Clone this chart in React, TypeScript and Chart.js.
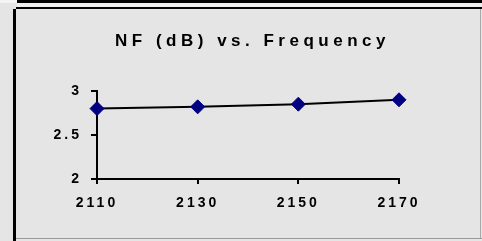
import React, { useEffect, useRef } from "react";
import { Chart, registerables } from "chart.js";
Chart.register(...registerables);

const categories = ["2110", "2130", "2150", "2170"];
const nfValues = [2.8, 2.82, 2.85, 2.9];
const yMin = 2;
const yMax = 3;
const yStep = 0.5;
const titleText = "NF (dB) vs. Frequency";

const FONT = "'Liberation Sans', Arial, sans-serif";
const BG = "#e5e5e5";

export default function App() {
  const ref = useRef<HTMLCanvasElement>(null);
  useEffect(() => {
    document.body.style.margin = "0";
    const spacingPlugin = {
      id: "spacing",
      beforeLayout(c: any) { c.ctx.letterSpacing = "3px"; },
      beforeDraw(c: any) { c.ctx.letterSpacing = "3px"; },
    };
    const titlePlugin = {
      id: "ttl",
      afterDraw(c: any) {
        const ctx = c.ctx;
        ctx.save();
        ctx.letterSpacing = "4.5px";
        ctx.font = `bold 17px ${FONT}`;
        ctx.fillStyle = "#000";
        ctx.textAlign = "center";
        ctx.textBaseline = "middle";
        ctx.fillText(titleText, (c.width + 17) / 2 + 3, 41);
        ctx.restore();
      },
    };
    const tickFont = { family: FONT, size: 14, weight: "bold" as const };
    const chart = new Chart(ref.current!, {
      type: "line",
      data: {
        labels: categories,
        datasets: [
          {
            data: nfValues,
            borderColor: "#000",
            borderWidth: 2,
            pointStyle: "rectRot",
            pointRadius: 7,
            pointBackgroundColor: "#000080",
            pointBorderColor: "#000080",
            pointBorderWidth: 1,
            tension: 0,
            clip: false as any,
          },
        ],
      },
      options: {
        animation: false,
        responsive: false,
        devicePixelRatio: 1,
        events: [],
        layout: { padding: { top: 91, right: 83, left: 0, bottom: 0 } },
        plugins: { legend: { display: false }, tooltip: { enabled: false }, title: { display: false } },
        scales: {
          x: {
            type: "category",
            offset: false,
            grid: { drawOnChartArea: false, drawTicks: true, tickLength: 5, color: "#000", lineWidth: 2 },
            border: { color: "#000", width: 2 },
            ticks: { color: "#000", font: tickFont, padding: 11, maxRotation: 0, autoSkip: false },
            afterFit(s: any) { s.height = 62; },
          },
          y: {
            min: yMin,
            max: yMax,
            grid: { drawOnChartArea: false, drawTicks: true, tickLength: 6, color: "#000", lineWidth: 2 },
            border: { color: "#000", width: 2 },
            ticks: {
              stepSize: yStep,
              color: "#000",
              font: tickFont,
              padding: 9,
              callback: (v: any) => String(Number(v)),
            },
            afterFit(s: any) { s.width = 97; },
          },
        },
      },
      plugins: [spacingPlugin, titlePlugin],
    });
    return () => chart.destroy();
  }, []);

  const abs = (l: number, t: number, w: number, h: number, bg: string) => (
    <div style={{ position: "absolute", left: l, top: t, width: w, height: h, background: bg }} />
  );

  return (
    <div style={{ position: "fixed", left: 0, top: 0, width: 482, height: 241, background: BG, overflow: "hidden" }}>
      {abs(0, 0, 17, 3, "#f4f4f4")}
      {abs(17, 0, 465, 3, "#000")}
      {abs(17, 3, 465, 4, "#eeeeee")}
      {abs(16, 7, 466, 2, "#000")}
      {abs(13, 9, 3, 232, "#000")}
      {abs(16, 238, 466, 1, "#9a9a9a")}
      {abs(480, 9, 1, 229, "#a8a8a8")}
      <canvas ref={ref} width={482} height={241} style={{ position: "absolute", left: 0, top: 0, width: 482, height: 241 }} />
    </div>
  );
}
